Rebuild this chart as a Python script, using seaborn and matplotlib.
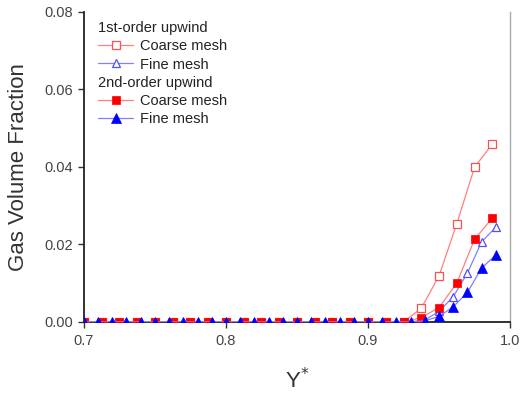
import numpy as np
import pandas as pd
import matplotlib
matplotlib.use("Agg")
import matplotlib.pyplot as plt
import seaborn as sns

# ---- data ----
coarse_x = [0.7000, 0.7125, 0.7250, 0.7375, 0.7500, 0.7625, 0.7750, 0.7875,
            0.8000, 0.8125, 0.8250, 0.8375, 0.8500, 0.8625, 0.8750, 0.8875,
            0.9000, 0.9125, 0.9250, 0.9375, 0.9500, 0.9625, 0.9750, 0.9875]
coarse_1st = [0.0] * 19 + [0.0035, 0.0119, 0.0253, 0.0399, 0.0459]
coarse_2nd = [0.0] * 19 + [0.0011, 0.0037, 0.0100, 0.0213, 0.0268]

fine_x = [0.70, 0.71, 0.72, 0.73, 0.74, 0.75, 0.76, 0.77, 0.78, 0.79,
          0.80, 0.81, 0.82, 0.83, 0.84, 0.85, 0.86, 0.87, 0.88, 0.89,
          0.90, 0.91, 0.92, 0.93, 0.94, 0.95, 0.96, 0.97, 0.98, 0.99]
fine_1st = [0.0] * 24 + [0.0005, 0.0027, 0.0065, 0.0126, 0.0207, 0.0244]
fine_2nd = [0.0] * 24 + [0.0003, 0.0014, 0.0039, 0.0076, 0.0139, 0.0173]

x_ticks = [0.7, 0.8, 0.9, 1.0]
y_ticks = [0.00, 0.02, 0.04, 0.06, 0.08]

sns.set_style("ticks")
plt.rcParams['font.family'] = ['Liberation Sans', 'DejaVu Sans']

fig = plt.figure(figsize=(5.21, 3.94), dpi=100)
ax = fig.add_axes([0.161, 0.183, 0.818, 0.787])

RED_LINE = '#ff8080'
BLUE_LINE = '#8080ff'
ms = 5.5

sns.lineplot(x=coarse_x, y=coarse_1st, ax=ax, color=RED_LINE, lw=0.9,
             marker='s', markersize=ms, markerfacecolor='white',
             markeredgecolor='#ff5050', markeredgewidth=0.9,
             label='Coarse mesh', zorder=3)
sns.lineplot(x=fine_x, y=fine_1st, ax=ax, color=BLUE_LINE, lw=0.9,
             marker='^', markersize=ms + 0.5, markerfacecolor='white',
             markeredgecolor='#5050ff', markeredgewidth=0.9,
             label='Fine mesh', zorder=3)
sns.lineplot(x=coarse_x, y=coarse_2nd, ax=ax, color=RED_LINE, lw=0.9,
             marker='s', markersize=ms, markerfacecolor='#ff0000',
             markeredgecolor='#ff0000', markeredgewidth=0.5,
             label='Coarse mesh', zorder=4)
sns.lineplot(x=fine_x, y=fine_2nd, ax=ax, color=BLUE_LINE, lw=0.9,
             marker='^', markersize=ms + 1.0, markerfacecolor='#0000ff',
             markeredgecolor='#0000ff', markeredgewidth=0.5,
             label='Fine mesh', zorder=5)

ax.set_xlim(0.7, 1.0)
ax.set_ylim(0.0, 0.08)
ax.set_xticks(x_ticks)
ax.set_xticklabels([f"{v:.1f}" for v in x_ticks])
ax.set_yticks(y_ticks)
ax.set_yticklabels([f"{v:.2f}" for v in y_ticks])
ax.tick_params(axis='both', labelsize=10.5, colors='#333333', length=4,
               width=1, direction='out', labelcolor='#444444')
ax.tick_params(axis='x', pad=5)
ax.set_xlabel(r"Y$^{*}$", fontsize=16, color='#333333', labelpad=14)
ax.set_ylabel("Gas Volume Fraction", fontsize=16, color='#333333', labelpad=11)

ax.spines['top'].set_visible(False)
ax.spines['right'].set_color('#aaaaaa')
ax.spines['right'].set_linewidth(1.0)
for s in ['left', 'bottom']:
    ax.spines[s].set_color('#222222')
    ax.spines[s].set_linewidth(1.3)

# legend with group headers
h, l = ax.get_legend_handles_labels()
blank = plt.Line2D([], [], lw=0, marker=None)
handles = [blank, h[0], h[1], blank, h[2], h[3]]
labels = ['1st-order upwind', 'Coarse mesh', 'Fine mesh',
          '2nd-order upwind', 'Coarse mesh', 'Fine mesh']
leg = ax.legend(handles, labels, loc='upper left', bbox_to_anchor=(0.02, 0.988),
                frameon=False, fontsize=10.5, handlelength=2.4,
                handletextpad=0.45, labelspacing=0.28, borderaxespad=0.0)
rows = []
for col in leg._legend_handle_box.get_children():
    rows.extend(col.get_children())
for i in (0, 3):
    ch = rows[i].get_children()
    ch.pop(0)
for t in leg.get_texts():
    t.set_color('#222222')

fig.savefig("out.png", dpi=100)
